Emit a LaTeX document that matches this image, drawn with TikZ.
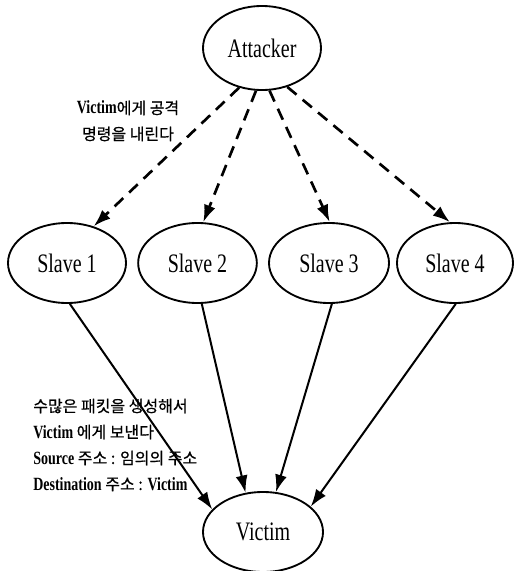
\documentclass[tikz,border=0pt]{standalone}
\usepackage{fontspec}
\setmainfont{Liberation Serif}
\newfontfamily\nodefont[FakeStretch=0.75]{Liberation Serif}
\newfontfamily\latfont[FakeStretch=0.75]{Liberation Serif}
\newfontfamily\kr[FakeBold=0.6]{Noto Sans CJK KR}
\usetikzlibrary{shapes.geometric,arrows.meta}
\newcommand\lt[1]{{\latfont\bfseries\fontsize{14pt}{19.5pt}\selectfont #1}}
\begin{document}
\begin{tikzpicture}[x=0.75pt,y=-0.75pt,
  host/.style={ellipse, draw, line width=1.4pt, minimum width=88.5pt, minimum height=60pt,
    inner sep=0pt, font=\nodefont\fontsize{20pt}{24pt}\selectfont},
  cmd/.style={line width=2pt, dash pattern=on 9pt off 6pt, -{Latex[length=13pt,width=9pt]}},
  pkt/.style={line width=1.5pt, -{Latex[length=13pt,width=9pt]}},
  note/.style={font=\kr\fontsize{12pt}{19.5pt}\selectfont, inner sep=0pt}]
\useasboundingbox (0,0) rectangle (514,571);
\node[host, minimum height=63pt] (att) at (262,48) {Attacker};
\node[host] (s1) at (67,263) {Slave 1};
\node[host, minimum width=89pt] (s2) at (197.5,263) {Slave 2};
\node[host, minimum width=90pt] (s3) at (329,263) {Slave 3};
\node[host, minimum width=87pt] (s4) at (455,263) {Slave 4};
\node[host, minimum width=90pt] (vic) at (263,532) {Victim};

\draw[cmd] (att.240) -- (s1.54);
\draw[cmd] (att.262) -- (s2.82);
\draw[cmd] (att.280) -- (s3.89);
\draw[cmd] (att.303) -- (s4.97);

\draw[pkt] (s1.274) -- (vic.156);
\draw[pkt] (s2.276) -- (vic.114);
\draw[pkt] (s3.274) -- (vic.72);
\draw[pkt] (s4.271) -- (vic.28);

\node[note, align=center] (lab1) at (128,121) {\lt{Victim}에게 공격\\명령을 내린다};
\node[note, align=left, anchor=west] (lab2) at (33,445) {수많은 패킷을 생성해서\\\lt{Victim} 에게 보낸다\\\lt{Source} 주소 : 임의의 주소\\\lt{Destination} 주소 : \lt{Victim}};
\end{tikzpicture}
\end{document}
